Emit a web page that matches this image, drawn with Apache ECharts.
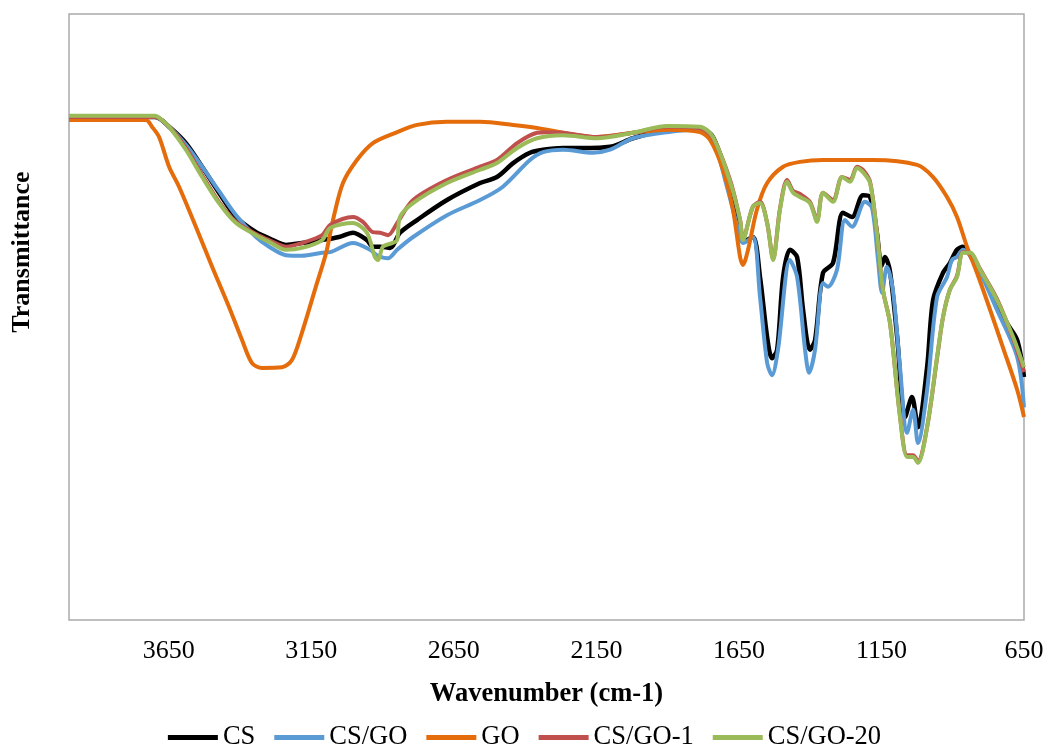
<!DOCTYPE html>
<html>
<head>
<meta charset="utf-8">
<script src="https://cdn.jsdelivr.net/npm/echarts@6/dist/echarts.min.js"></script>
<style>
  body { margin: 0; background: #fff; }
  #chart { width: 1049px; height: 751px; }
</style>
</head>
<body>
<div id="chart"></div>
<script>
// wavenumber (cm-1) / transmittance (a.u.)
const csWn = [4000,3698,3649,3590,3533,3474,3414,3344,3298,3239,3183,3112,3053,3004,2955,2934,2909,2874,2839,2779,2674,2558,2499,2442,2383,2337,2267,2172,2102,2078,2022,1902,1787,1741,1692,1657,1636,1601,1576,1551,1534,1516,1495,1471,1446,1425,1401,1383,1355,1320,1285,1253,1215,1190,1166,1150,1138,1120,1095,1067,1043,1022,990,969,934,910,885,864,829,769,710,674,650];
const csT = [83.0,83.0,81.4,78.7,74.8,70.5,66.5,64.0,63.0,61.9,62.2,62.7,63.2,63.9,62.7,61.6,61.6,61.4,63.9,66.0,69.3,72.1,73.1,75.4,77.1,77.6,77.9,77.9,78.1,78.4,79.5,80.9,81.2,79.7,73.1,66.0,62.4,63.2,56.6,46.7,43.2,44.6,56.6,61.1,59.9,51.2,44.6,46.2,57.3,58.9,67.2,66.5,70.1,69.8,63.9,58.4,59.9,57.5,46.7,33.5,36.8,31.8,41.7,52.8,57.3,58.9,61.1,61.6,59.4,54.5,49.0,46.2,40.1];

const csgoWn = [4000,3698,3649,3590,3533,3474,3414,3344,3298,3239,3183,3112,3084,3004,2944,2920,2881,2849,2793,2674,2558,2478,2383,2337,2267,2162,2102,2022,1902,1787,1741,1692,1646,1636,1601,1576,1551,1534,1513,1471,1446,1418,1404,1383,1355,1338,1306,1278,1253,1208,1183,1162,1148,1131,1110,1085,1060,1039,1022,990,955,920,903,885,864,815,745,674,650];
const csgoT = [83.0,83.0,81.4,78.4,74.8,70.8,66.8,63.2,61.6,60.2,60.1,60.6,60.7,62.2,61.1,60.2,59.7,61.1,63.2,66.8,69.3,71.5,75.9,77.2,77.6,77.1,77.6,79.5,80.5,80.9,79.2,71.5,63.2,62.2,63.2,53.3,42.4,40.4,44.6,59.4,56.6,44.6,40.8,44.6,55.6,55.0,57.8,66.0,64.9,69.0,68.0,59.4,54.0,58.3,54.5,41.7,30.9,34.7,29.2,37.9,53.3,56.6,59.4,59.9,61.1,58.3,51.2,43.4,35.1];

const goWn = [4000,3730,3709,3684,3649,3614,3555,3498,3439,3393,3358,3323,3253,3218,3183,3134,3098,3074,3039,2990,2934,2849,2779,2674,2558,2442,2358,2267,2148,2022,1902,1787,1751,1706,1671,1646,1636,1618,1587,1551,1495,1436,1355,1180,1025,969,920,885,850,815,769,724,674,650];
const goT = [82.5,82.5,81.4,79.7,74.8,71.5,64.9,58.3,51.7,46.2,42.4,41.6,41.7,42.9,47.4,55.0,60.6,66.0,72.1,75.9,78.7,80.5,81.7,82.2,82.2,81.7,81.2,80.4,79.7,80.4,80.9,80.5,79.2,74.3,67.7,59.9,58.6,61.1,67.7,72.1,74.8,75.6,75.9,75.9,75.1,73.1,69.8,66.5,61.6,57.3,51.2,45.0,38.0,33.5];

const go1Wn = [4000,3698,3649,3590,3533,3474,3414,3344,3298,3239,3183,3112,3084,3004,2969,2934,2909,2881,2849,2793,2674,2558,2499,2428,2358,2323,2267,2148,2022,1902,1787,1741,1681,1646,1636,1601,1576,1551,1530,1506,1481,1460,1436,1401,1376,1355,1320,1288,1260,1236,1215,1190,1166,1145,1120,1085,1060,1039,1022,990,955,934,910,885,864,839,804,745,688,650];
const go1T = [83.0,83.0,81.4,77.9,73.4,69.0,65.7,63.7,62.7,61.6,62.2,63.5,65.2,66.5,65.7,64.0,63.9,63.5,65.5,69.3,72.6,74.8,75.9,78.7,80.4,80.5,80.4,79.7,80.4,81.4,81.2,79.5,72.6,66.0,62.9,68.2,69.0,65.5,59.6,67.9,72.6,70.8,70.3,69.0,66.0,70.5,69.3,73.1,72.6,74.8,74.3,72.3,64.0,54.5,49.0,33.7,27.2,27.2,26.2,31.8,43.2,50.0,54.5,56.8,60.7,60.6,57.9,53.0,46.4,40.9];

const go20Wn = [4000,3698,3674,3649,3590,3533,3474,3414,3344,3298,3239,3183,3112,3084,3004,2955,2927,2916,2899,2867,2849,2839,2793,2674,2558,2499,2428,2358,2267,2148,2022,1902,1787,1741,1681,1646,1636,1601,1576,1551,1530,1506,1481,1460,1436,1401,1376,1355,1320,1288,1260,1236,1215,1190,1166,1145,1120,1085,1060,1039,1022,990,955,934,910,885,864,839,804,745,688,650];
const go20T = [83.2,83.2,82.5,81.4,77.6,73.1,68.8,65.5,63.5,62.4,61.1,61.4,62.7,64.7,65.5,63.9,59.9,59.4,61.6,62.2,62.7,66.5,68.8,72.1,74.3,75.4,77.9,79.5,80.0,79.5,80.4,81.5,81.4,79.7,72.3,66.0,62.7,68.2,68.8,65.5,59.4,67.7,72.3,70.5,69.8,68.8,65.7,70.5,69.0,73.1,72.3,74.6,73.9,72.1,63.9,54.5,49.0,33.5,26.9,26.9,25.9,31.8,43.4,50.0,54.5,56.6,60.6,60.6,57.8,52.8,46.7,41.7];

const xTicks = [650, 1150, 1650, 2150, 2650, 3150, 3650];

const names = ['CS', 'CS/GO', 'GO', 'CS/GO-1', 'CS/GO-20'];
const colors = ['#000000', '#5B9BD5', '#E46C0A', '#C0504D', '#9BBB59'];
const xs = [csWn, csgoWn, goWn, go1Wn, go20Wn];
const ys = [csT, csgoT, goT, go1T, go20T];

const serif = "'Liberation Serif', 'Times New Roman', serif";

const chart = echarts.init(document.getElementById('chart'));
chart.setOption({
  animation: false,
  grid: {
    left: 69, right: 25, top: 14, bottom: 131,
    show: true, borderColor: '#ABABAB', borderWidth: 1.5
  },
  xAxis: {
    type: 'value',
    min: 650, max: 4000,
    inverse: true,
    name: 'Wavenumber (cm-1)',
    nameLocation: 'middle',
    nameGap: 61,
    nameTextStyle: { fontFamily: serif, fontSize: 26.5, fontWeight: 'bold', color: '#000' },
    axisLine: { show: false },
    axisTick: { show: false },
    splitLine: { show: false },
    axisLabel: {
      customValues: xTicks,
      formatter: v => String(v),
      margin: 18,
      fontFamily: serif, fontSize: 26, color: '#000'
    }
  },
  yAxis: {
    type: 'value',
    min: 0, max: 100,
    axisLine: { show: false },
    axisTick: { show: false },
    axisLabel: { show: false },
    splitLine: { show: false }
  },
  legend: {
    bottom: 0,
    padding: 0,
    left: 'center',
    icon: 'rect',
    itemWidth: 50,
    itemHeight: 5,
    itemGap: 19,
    textStyle: { fontFamily: serif, fontSize: 26.5, color: '#000' },
    data: names
  },
  graphic: [{
    type: 'text',
    x: 22, y: 252,
    rotation: Math.PI / 2,
    style: {
      text: 'Transmittance',
      font: "bold 26px 'Liberation Serif', serif",
      fill: '#000',
      align: 'center', verticalAlign: 'middle',
      textAlign: 'center', textVerticalAlign: 'middle'
    }
  }],
  series: names.map((n, i) => ({
    name: n,
    type: 'line',
    symbol: 'none',
    smooth: 0.3,
    color: colors[i],
    itemStyle: { color: colors[i] },
    lineStyle: { width: i === 0 ? 4.5 : 4, color: colors[i], join: 'round' },
    data: xs[i].map((w, j) => [w, ys[i][j]])
  }))
});
</script>
</body>
</html>
